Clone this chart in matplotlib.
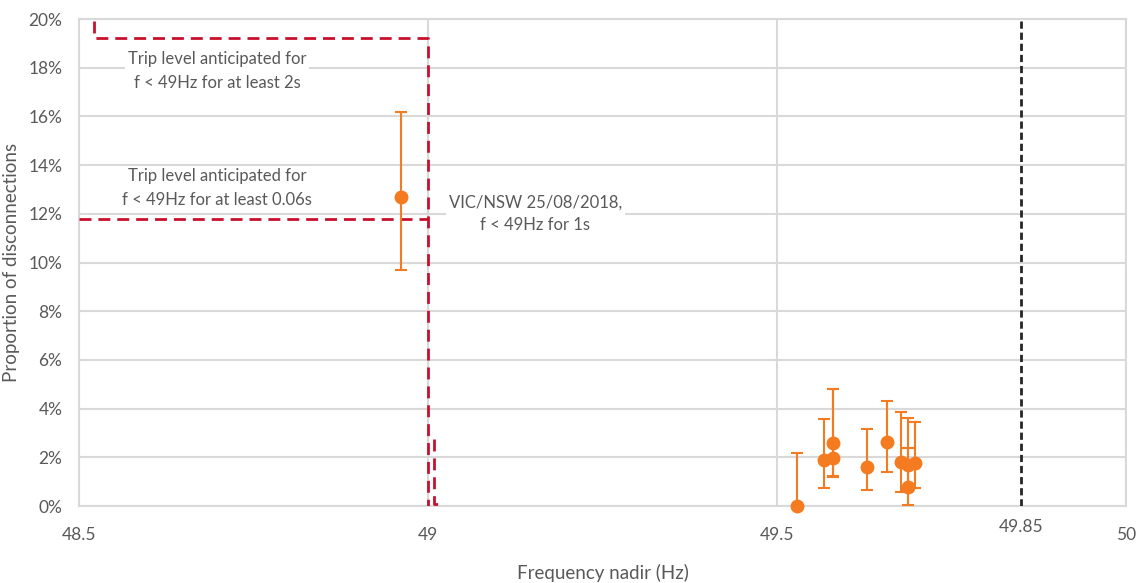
import matplotlib
matplotlib.use("Agg")
import matplotlib.pyplot as plt

plt.rcParams['font.family'] = ['Lato', 'DejaVu Sans']

# observed disconnections (frequency nadir in Hz, proportion in %)
nadir_hz = [48.961, 49.529, 49.568, 49.580, 49.580, 49.629, 49.658, 49.678, 49.688, 49.688, 49.698]
prop_pct = [12.69, 0.0, 1.89, 2.57, 1.98, 1.61, 2.64, 1.79, 1.68, 0.77, 1.78]
err_lo_pct = [9.69, 0.0, 0.75, 1.19, 1.25, 0.64, 1.41, 0.59, 0.62, 0.04, 0.75]
err_hi_pct = [16.18, 2.19, 3.57, 4.79, 4.79, 3.15, 4.32, 3.87, 3.63, 2.37, 3.44]

# trip level step lines
trip_2s_x = [48.521, 48.521, 49.0, 49.0]
trip_2s_y = [19.9, 19.23, 19.23, 0.0]
trip_006s_x = [48.5, 49.0]
trip_006s_y = [11.8, 11.8]
vic_nsw_x = [49.008, 49.008, 49.02]
vic_nsw_y = [2.75, 0.1, 0.1]
nominal_line_hz = 49.85

x_ticks = [48.5, 49, 49.5, 50]
x_tick_labels = ['48.5', '49', '49.5', '50']
y_ticks = list(range(0, 21, 2))

grey_txt = '#595959'
grid_col = '#d9d9d9'
red = '#c8102e'
orange = '#f47b20'

fig = plt.figure(figsize=(11.37, 5.83), dpi=100)
ax = fig.add_axes([0.0695, 0.132, 0.9208, 0.8354])
ax.set_xlim(48.5, 50)
ax.set_ylim(0, 20)

ax.set_yticks(y_ticks)
ax.set_yticklabels([f'{v}%' for v in y_ticks])
ax.set_xticks(x_ticks)
ax.set_xticklabels(x_tick_labels)
ax.tick_params(length=0, labelsize=12.5, colors=grey_txt)
ax.tick_params(axis='x', pad=15)
ax.tick_params(axis='y', pad=12)
ax.grid(True, color=grid_col, linewidth=1.5, zorder=0)
ax.set_axisbelow(True)
for s in ax.spines.values():
    s.set_color(grid_col)
    s.set_linewidth(1.5)

ax.set_xlabel('Frequency nadir (Hz)', fontsize=13.5, color=grey_txt, labelpad=15)
ax.set_ylabel('Proportion of disconnections', fontsize=13.5, color=grey_txt, labelpad=6)

# extra label for the 49.85 line, sits a bit higher than the normal ticks
ax.text(nominal_line_hz, -0.85, '49.85', ha='center', va='center',
        fontsize=12.5, color=grey_txt, clip_on=False)

# trip level lines
ax.plot(trip_2s_x, trip_2s_y, color=red, lw=2, dashes=(4.3, 2.5), zorder=3)
ax.plot(trip_006s_x, trip_006s_y, color=red, lw=2, dashes=(4.3, 2.5), zorder=3)
ax.plot(vic_nsw_x, vic_nsw_y, color=red, lw=2, dashes=(4.3, 2.5), zorder=3)
ax.plot([nominal_line_hz, nominal_line_hz], [0, 20], color='#262626', lw=2,
        dashes=(2.6, 1.4), zorder=3)

# data with error bars
yerr = [[p - lo for p, lo in zip(prop_pct, err_lo_pct)],
        [hi - p for p, hi in zip(prop_pct, err_hi_pct)]]
ax.errorbar(nadir_hz, prop_pct, yerr=yerr, fmt='o', color=orange, ms=9,
            elinewidth=1.5, capsize=4.5, capthick=1.5, zorder=4, clip_on=False)

box = dict(facecolor='white', edgecolor='none', pad=2)
ax.text(48.698, 17.85, 'Trip level anticipated for\nf < 49Hz for at least 2s',
        ha='center', va='center', fontsize=12, color=grey_txt,
        linespacing=1.6, bbox=box, zorder=2)
ax.text(48.698, 13.05, 'Trip level anticipated for\nf < 49Hz for at least 0.06s',
        ha='center', va='center', fontsize=12, color=grey_txt,
        linespacing=1.6, bbox=box, zorder=2)
ax.text(49.154, 12.0, 'VIC/NSW 25/08/2018,\nf < 49Hz for 1s',
        ha='center', va='center', fontsize=12, color=grey_txt,
        linespacing=1.55, bbox=box, zorder=2)

fig.savefig('out.png', dpi=100)
